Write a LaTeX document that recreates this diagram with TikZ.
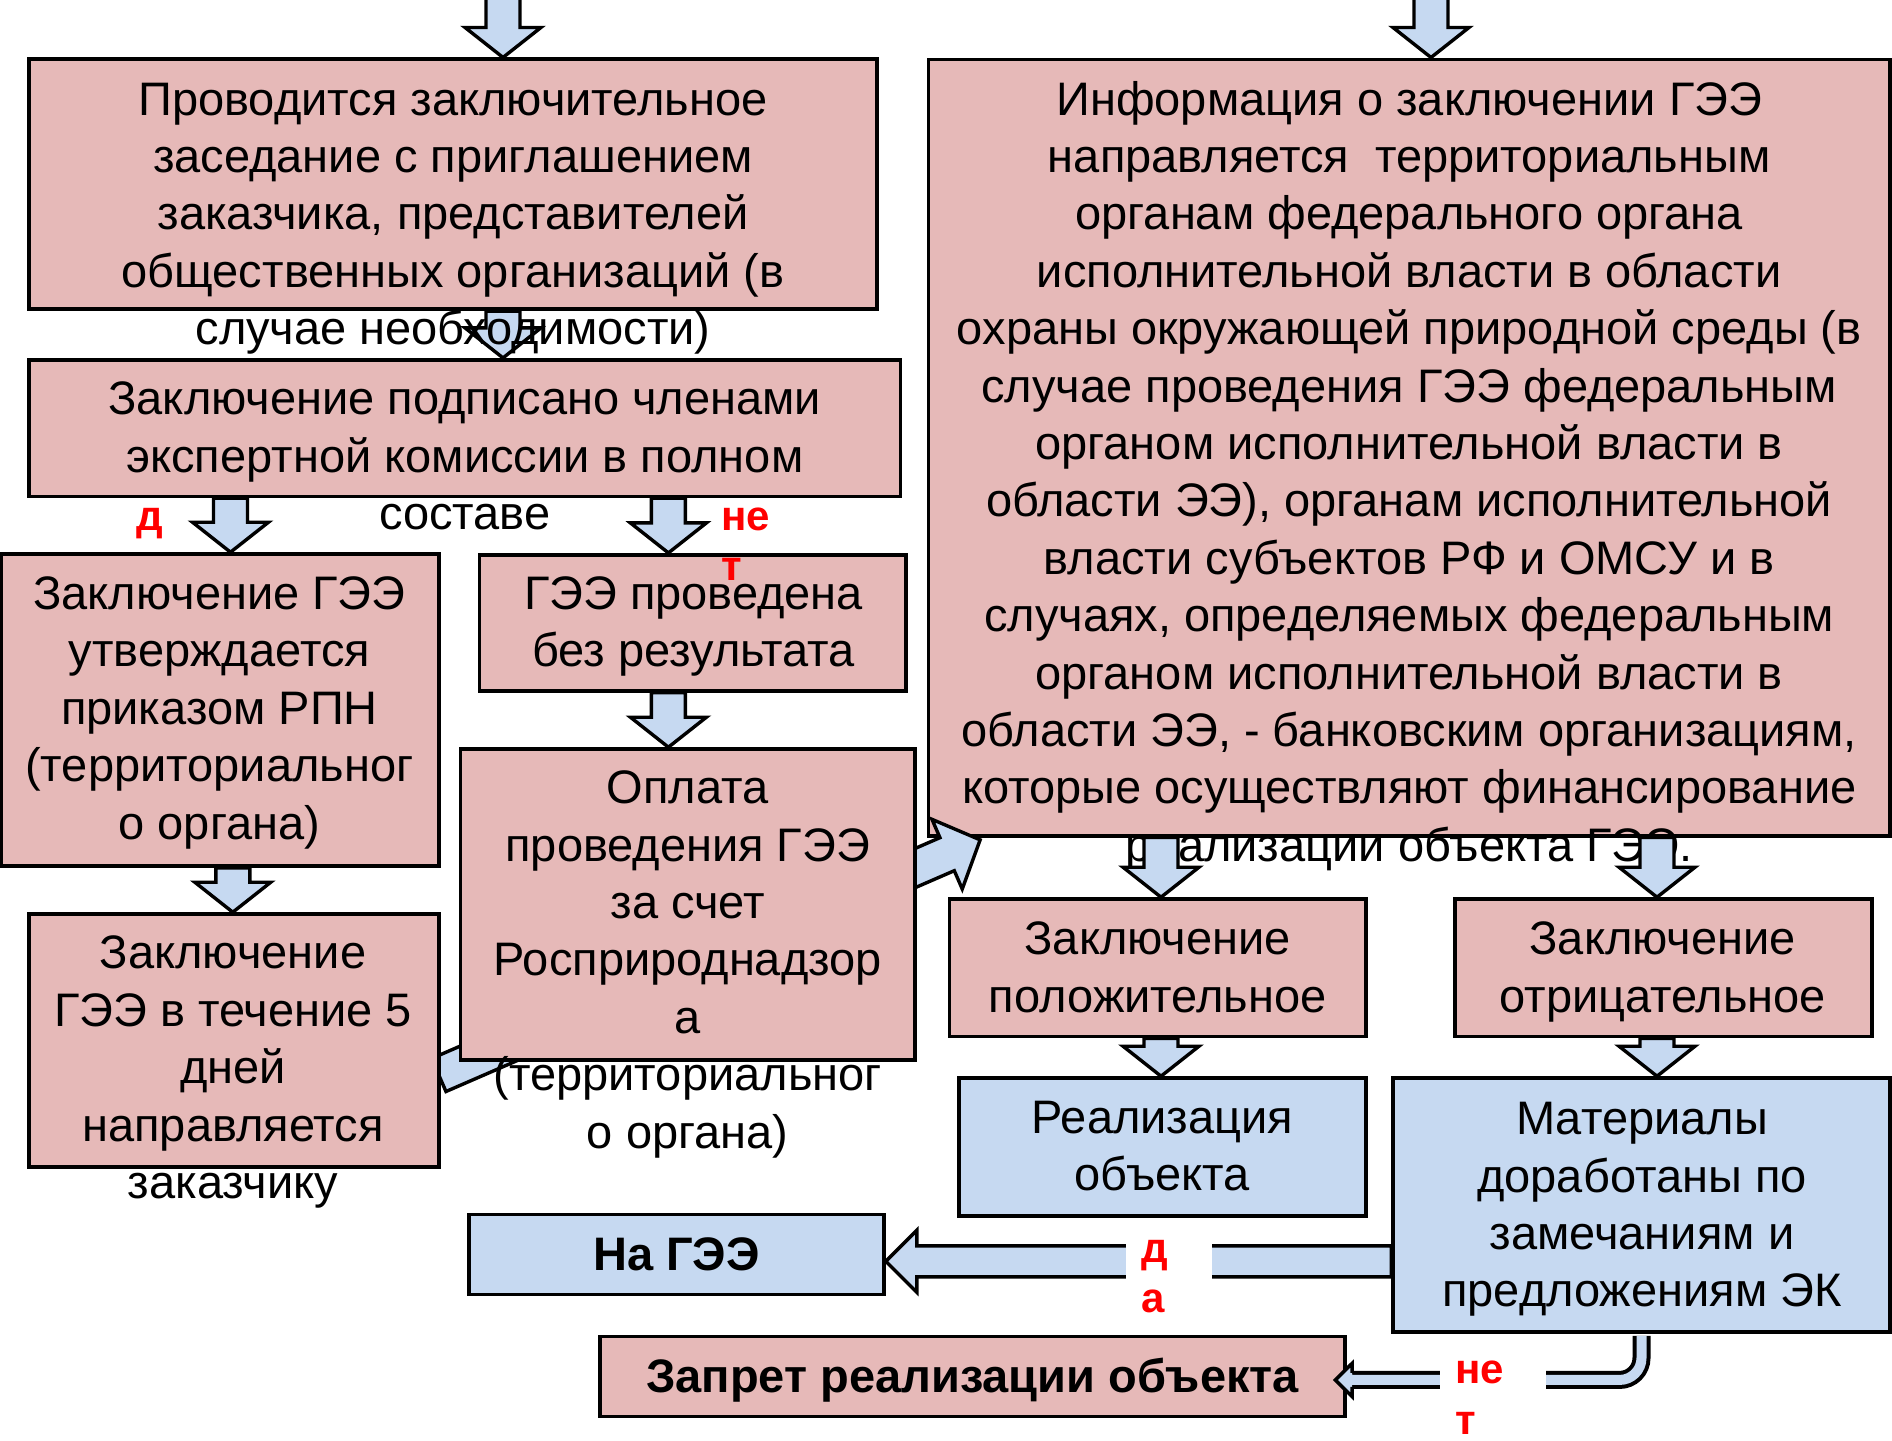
\documentclass[tikz,border=0pt]{standalone}
\usepackage{fontspec}
\setmainfont{Liberation Sans}
\usetikzlibrary{calc}
\definecolor{boxpink}{HTML}{E6B9B8}
\definecolor{boxblue}{HTML}{C6D9F1}
\definecolor{arrowblue}{HTML}{C6D9F1}
\pgfdeclarelayer{back}
\pgfsetlayers{back,main}
\newcommand\firststrut{\rule{0pt}{44pt}}
\newcommand\redstrut{\rule{0pt}{40pt}}
% block arrow: #1 from, #2 tip, #3 half shaft, #4 half head, #5 head length
\newcommand\blockarrow[5]{%
  \path let \p1=(#1), \p2=(#2) in \pgfextra{%
    \pgfmathsetmacro\baangle{atan2((\y2)-(\y1),(\x2)-(\x1))}%
    \pgfmathsetmacro\balength{veclen((\x2)-(\x1),(\y2)-(\y1))}%
    \xdef\baangle{\baangle}\xdef\balength{\balength}%
    \xdef\bastartx{\x1}\xdef\bastarty{\y1}};
  \begin{scope}[shift={(\bastartx,\bastarty)},rotate=\baangle]
    \draw[barrow] (0pt,-#3pt) -- ({\balength pt-#5pt},-#3pt) -- ({\balength pt-#5pt},-#4pt)
      -- (\balength pt,0pt) -- ({\balength pt-#5pt},#4pt) -- ({\balength pt-#5pt},#3pt)
      -- (0pt,#3pt) -- cycle;
  \end{scope}}
\tikzset{
  pinkbox/.style={rectangle, draw=black, line width=3.6pt, fill=boxpink, inner sep=0pt},
  bluebox/.style={rectangle, draw=black, line width=3.6pt, fill=boxblue, inner sep=0pt},
  txt/.style={align=center, inner sep=0pt, anchor=north, text=black,
    font=\fontsize{47}{57.4}\selectfont},
  btxt/.style={align=center, inner sep=0pt, anchor=north, text=black,
    font=\bfseries\fontsize{47}{57.4}\selectfont},
  redlbl/.style={align=left, inner sep=0pt, anchor=north west, text=red,
    font=\bfseries\fontsize{42}{50.5}\selectfont},
  gap/.style={rectangle, fill=white, draw=none, inner sep=0pt},
  barrow/.style={draw=black, fill=arrowblue, line width=3.4pt, line join=miter},
  dblconn/.style={draw=black, line width=4pt, double=arrowblue, double distance=10pt}
}
\begin{document}
\begin{tikzpicture}[x=1pt,y=-1pt]
\useasboundingbox (0,0) rectangle (1892,1440);
\coordinate (t1) at (503,-12);
\coordinate (t2) at (1431,-12);
\coordinate (bcx) at (230.5,0);
\coordinate (bdx) at (668.4,0);
\coordinate (cfx) at (232.8,0);
\coordinate (ghx) at (1161,0);
\coordinate (gix) at (1657,0);
\coordinate (klrow) at (0,1261.3);

% ---------- top left chain ----------
\node[pinkbox, minimum width=848pt, minimum height=250pt] (A) at (453,184.25) {};
\node[pinkbox, minimum width=871.4pt, minimum height=136.7pt] (B) at (464.7,428.05) {};
\blockarrow{t1}{A.north -| t1}{17}{38}{30}
\blockarrow{A.south -| t1}{B.north -| t1}{17}{38}{30}
\node[txt] (Atext) at (453,70.8) {\firststrut Проводится заключительное\\заседание с приглашением\\заказчика, представителей\\общественных организаций (в\\случае необходимости)};
\node[txt] (Btext) at (464.7,370.5) {\firststrut Заключение подписано членами\\экспертной комиссии в полном\\составе};

% ---------- big right box ----------
\begin{pgfonlayer}{back}
\node[pinkbox, minimum width=961.5pt, minimum height=776.4pt] (G) at (1409.25,447.5) {};
\node[txt] (Gtext) at (1409.2,70.8) {\firststrut Информация о заключении ГЭЭ\\направляется~ территориальным\\органам федерального органа\\исполнительной власти в области\\охраны окружающей природной среды (в\\случае проведения ГЭЭ федеральным\\органом исполнительной власти в\\области ЭЭ), органам исполнительной\\власти субъектов РФ и ОМСУ и в\\случаях, определяемых федеральным\\органом исполнительной власти в\\области ЭЭ, - банковским организациям,\\которые осуществляют финансирование\\реализации объекта ГЭЭ.};
\end{pgfonlayer}
\blockarrow{t2}{G.north -| t2}{17}{38}{30}

% ---------- middle left ----------
\node[pinkbox, minimum width=437.3pt, minimum height=312pt] (C) at (220.15,710) {};
\node[pinkbox, minimum width=426.6pt, minimum height=136.2pt] (D) at (692.9,622.8) {};
\node[pinkbox, minimum width=454.7pt, minimum height=311pt] (E) at (687.85,904.5) {};
\node[pinkbox, minimum width=410.1pt, minimum height=253pt] (F) at (233.75,1040.5) {};
\blockarrow{B.south -| bcx}{C.north -| bcx}{17}{38}{30}
\blockarrow{B.south -| bdx}{D.north -| bdx}{17}{38}{30}
\blockarrow{D.south -| bdx}{E.north -| bdx}{17}{38}{30}
\blockarrow{C.south -| cfx}{F.north -| cfx}{17}{38}{30}
\node[txt] (Ctext) at (219.4,565.2) {\firststrut Заключение ГЭЭ\\утверждается\\приказом РПН\\(территориальног\\о органа)};
\node[txt] (Dtext) at (693.5,565) {\firststrut ГЭЭ проведена\\без результата};
\node[txt] (Etext) at (687.7,759.4) {\firststrut Оплата\\проведения ГЭЭ\\за счет\\Росприроднадзор\\а\\(территориальног\\о органа)};
\node[txt] (Ftext) at (233,924.6) {\firststrut Заключение\\ГЭЭ в течение 5\\дней\\направляется\\заказчику};
\node[redlbl] (lblda1) at (136,490) {\redstrut д};
\node[redlbl] (lblnet1) at (721,490) {\redstrut не\\т};

% diagonal arrow F -> G (behind F and E, above G)
\begin{pgfonlayer}{back}
\coordinate (fgfrom) at ($(F.east)+(-1.8,34.5)$);
\coordinate (fgto) at ($(G.south west)+(53.5,2.3)$);
\blockarrow{fgfrom}{fgto}{18}{38}{36}
\end{pgfonlayer}

% ---------- right lower part ----------
\node[pinkbox, minimum width=416.7pt, minimum height=137.5pt] (H) at (1157.65,967.75) {};
\node[pinkbox, minimum width=417.3pt, minimum height=137.5pt] (I) at (1663.35,967.75) {};
\blockarrow{G.south -| ghx}{H.north -| ghx}{17}{38}{30}
\blockarrow{G.south -| gix}{I.north -| gix}{17}{38}{30}
\node[bluebox, minimum width=407.2pt, minimum height=138pt] (J) at (1162.4,1147) {};
\node[bluebox, minimum width=497pt, minimum height=254pt] (K) at (1641.5,1205) {};
\blockarrow{H.south -| ghx}{J.north -| ghx}{17}{38}{30}
\blockarrow{I.south -| gix}{K.north -| gix}{17}{38}{30}
\node[txt] (Htext) at (1157.7,910.6) {\firststrut Заключение\\положительное};
\node[txt] (Itext) at (1662.7,910.6) {\firststrut Заключение\\отрицательное};
\node[txt] (Jtext) at (1162.4,1089) {\firststrut Реализация\\объекта};
\node[txt] (Ktext) at (1642,1090.5) {\firststrut Материалы\\доработаны по\\замечаниям и\\предложениям ЭК};

% ---------- bottom ----------
\node[bluebox, minimum width=415.3pt, minimum height=80pt] (L) at (676.35,1254.6) {};
\node[pinkbox, minimum width=745pt, minimum height=79.7pt] (M) at (972.5,1376.45) {};
\node[btxt] (Ltext) at (676.4,1225.8) {\firststrut На ГЭЭ};
\node[btxt] (Mtext) at (972.5,1347.9) {\firststrut Запрет реализации объекта};

\blockarrow{K.west |- klrow}{L.east |- klrow}{15.5}{31}{31}
\node[gap, minimum width=86pt, minimum height=96pt] (dagap) at (1168.8,1275) {};
\node[redlbl] (lblda2) at (1141,1222) {\redstrut д\\а};

\coordinate (kmtip) at ($(M.east)+(-11.5,3.5)$);
\coordinate (kmbase) at ($(kmtip)+(16.7,0)$);
\draw[dblconn, rounded corners=22pt] ($(K.south)+(0,2)$) |- (kmbase);
\fill[arrowblue] (kmtip) -- ($(kmbase)+(0,-16.5)$) -- ($(kmbase)+(0,-5)$) -- ($(kmbase)+(1,-5)$)
  -- ($(kmbase)+(1,5)$) -- ($(kmbase)+(0,5)$) -- ($(kmbase)+(0,16.5)$) -- cycle;
\draw[black, line width=3.5pt, line join=miter] ($(kmbase)+(0,-7)$) -- ($(kmbase)+(0,-16.5)$)
  -- (kmtip) -- ($(kmbase)+(0,16.5)$) -- ($(kmbase)+(0,7)$);
\node[gap, minimum width=106pt, minimum height=80pt] (netgap) at (1493,1390) {};
\node[redlbl] (lblnet2) at (1455,1343.3) {\redstrut не\\т};
\end{tikzpicture}
\end{document}
